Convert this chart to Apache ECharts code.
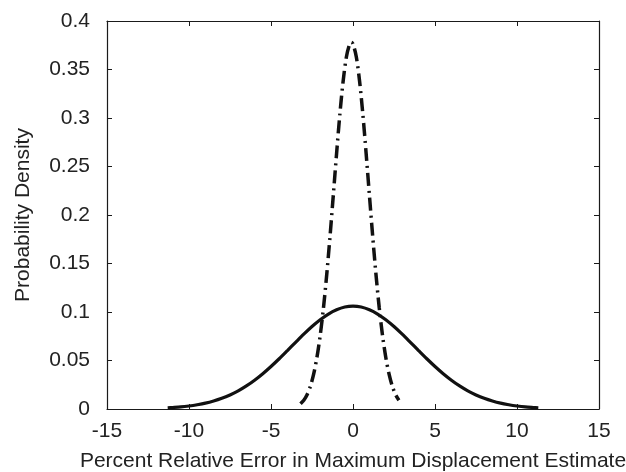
<!DOCTYPE html>
<html>
<head>
<meta charset="utf-8">
<script src="https://cdn.jsdelivr.net/npm/echarts@6/dist/echarts.min.js"></script>
<style>html,body{margin:0;padding:0;background:#fff}#c{width:626px;height:472px}</style>
</head>
<body>
<div id="c"></div>
<script>
// Solid curve (wide distribution)
const solidX = [-11.3,-11,-10.5,-10,-9.5,-9,-8.5,-8,-7.5,-7,-6.5,-6,-5.5,-5,-4.5,-4,-3.5,-3,-2.5,-2,-1.5,-1,-0.5,0,0.5,1,1.5,2,2.5,3,3.5,4,4.5,5,5.5,6,6.5,7,7.5,8,8.5,9,9.5,10,10.5,11,11.3];
const solidY = [0.0012,0.0015,0.0021,0.0031,0.0044,0.0060,0.0082,0.0110,0.0145,0.0187,0.0238,0.0297,0.0364,0.0438,0.0518,0.0602,0.0687,0.0771,0.0850,0.0920,0.0979,0.1023,0.1051,0.1060,0.1051,0.1023,0.0979,0.0920,0.0850,0.0771,0.0687,0.0602,0.0518,0.0438,0.0364,0.0297,0.0238,0.0187,0.0145,0.0110,0.0082,0.0060,0.0044,0.0031,0.0021,0.0015,0.0012];
// Dash-dot curve (narrow distribution)
const dashX = [-3.2,-3.0,-2.8,-2.6,-2.4,-2.2,-2.0,-1.8,-1.6,-1.4,-1.2,-1.0,-0.8,-0.6,-0.4,-0.2,-0.1,0,0.2,0.4,0.6,0.8,1.0,1.2,1.4,1.6,1.8,2.0,2.2,2.4,2.6,2.8];
const dashY = [0.0053,0.0090,0.0147,0.0234,0.0359,0.0531,0.0758,0.1044,0.1389,0.1782,0.2206,0.2636,0.3040,0.3382,0.3632,0.3763,0.3780,0.3763,0.3632,0.3382,0.3040,0.2636,0.2206,0.1782,0.1389,0.1044,0.0758,0.0531,0.0359,0.0234,0.0147,0.0090];
const xTicks = {min: -15, max: 15, interval: 5};
const yTicks = {min: 0, max: 0.4, interval: 0.05};
const xTitle = 'Percent Relative Error in Maximum Displacement Estimate';
const yTitle = 'Probability Density';

const font = 'Liberation Sans, Arial, Helvetica, sans-serif';
const txt = '#222';
const ax = '#1a1a1a';
const fs = 21;
const chart = echarts.init(document.getElementById('c'));
const baseAxis = {
  axisLine: {show: true, onZero: false, lineStyle: {color: ax, width: 1.2}},
  axisTick: {show: true, inside: true, length: 5, lineStyle: {color: ax, width: 1}},
  splitLine: {show: false}
};
chart.setOption({
  animation: false,
  backgroundColor: '#fff',
  grid: {left: 107, right: 27, top: 21, bottom: 63, containLabel: false, outerBoundsMode: 'none'},
  xAxis: [
    Object.assign({}, baseAxis, {
      type: 'value', position: 'bottom', min: xTicks.min, max: xTicks.max, interval: xTicks.interval,
      name: xTitle, nameLocation: 'middle', nameGap: 42,
      nameTextStyle: {color: txt, fontSize: fs, fontFamily: font},
      axisLabel: {color: txt, fontSize: fs, fontFamily: font, margin: 12}
    }),
    Object.assign({}, baseAxis, {
      type: 'value', position: 'top', min: xTicks.min, max: xTicks.max, interval: xTicks.interval,
      axisLabel: {show: false}
    })
  ],
  yAxis: [
    Object.assign({}, baseAxis, {
      type: 'value', position: 'left', min: yTicks.min, max: yTicks.max, interval: yTicks.interval,
      name: yTitle, nameLocation: 'middle', nameGap: 73, nameRotate: 90,
      nameTextStyle: {color: txt, fontSize: fs, fontFamily: font},
      axisLabel: {color: txt, fontSize: fs, fontFamily: font, margin: 17,
        formatter: v => String(+v.toFixed(2))}
    }),
    Object.assign({}, baseAxis, {
      type: 'value', position: 'right', min: yTicks.min, max: yTicks.max, interval: yTicks.interval,
      axisLabel: {show: false}
    })
  ],
  series: [
    {
      type: 'line', xAxisIndex: 0, yAxisIndex: 0, showSymbol: false, smooth: 0.3,
      data: solidX.map((x, i) => [x, solidY[i]]),
      lineStyle: {color: '#111', width: 3.2}
    },
    {
      type: 'line', xAxisIndex: 0, yAxisIndex: 0, showSymbol: false, smooth: 0.3,
      data: dashX.map((x, i) => [x, dashY[i]]),
      lineStyle: {color: '#111', width: 3.5, type: [13, 5, 2, 5]}
    }
  ]
});
</script>
</body>
</html>
